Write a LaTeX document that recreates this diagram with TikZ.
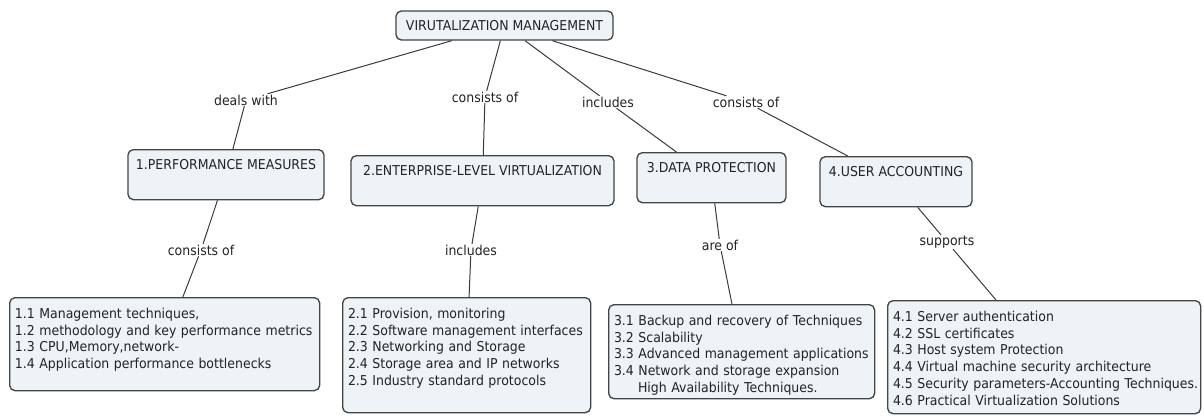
\documentclass[tikz,border=0pt]{standalone}
\usepackage{fontspec}
\setmainfont{DejaVu Sans}[FakeStretch=0.92]
\usepackage{tikz}
\usepackage{xcolor}
\definecolor{boxfill}{RGB}{237,243,246}
\definecolor{boxline}{RGB}{68,68,68}
\definecolor{inktext}{RGB}{35,35,35}

\begin{document}
\begin{tikzpicture}[x=0.75pt,y=-0.75pt,font=\fontsize{10.2}{12.6}\selectfont,text=inktext,
  topbox/.style={draw=boxline,fill=boxfill,rounded corners=4pt,line width=1pt,minimum height=21.75pt,inner sep=3pt},
  headbox/.style={draw=boxline,fill=boxfill,rounded corners=4pt,line width=1pt,anchor=north,inner ysep=5pt,text height=9.6pt,text depth=17.9pt},
  leafbox/.style={draw=boxline,fill=boxfill,rounded corners=4pt,line width=1pt,anchor=north west,align=left,inner xsep=4pt,inner ysep=6pt,text height=9.4pt},
  linkname/.style={inner sep=0.5pt},
  link/.style={draw=boxline!85!black,line width=0.75pt}]
  \useasboundingbox (0,0) rectangle (1204,415);
  \node[topbox,minimum width=162.75pt] (root) at (504.5,25.5) {VIRUTALIZATION MANAGEMENT};

  \node[headbox,minimum width=147pt] (perf) at (226,149) {1.PERFORMANCE MEASURES};
  \node[headbox,minimum width=197.25pt] (ent) at (482.5,155) {2.ENTERPRISE-LEVEL VIRTUALIZATION};
  \node[headbox,minimum width=111.75pt] (data) at (711.5,152) {3.DATA PROTECTION};
  \node[headbox,minimum width=114pt] (user) at (896,156) {4.USER ACCOUNTING};

  \node[linkname] (dealswith) at (246,100) {deals with};
  \node[linkname] (consistsA) at (485,97) {consists of};
  \node[linkname] (includesA) at (608,102) {includes};
  \node[linkname] (consistsB) at (746,102) {consists of};
  \node[linkname] (consistsC) at (201,250) {consists of};
  \node[linkname] (includesB) at (471,250) {includes};
  \node[linkname] (areof) at (720,245) {are of};
  \node[linkname] (supports) at (947,242) {supports};

  \node[leafbox,text width=224.5pt,text depth=48.35pt] (perfitems) at (9,297)
    {1.1 Management techniques,\\1.2 methodology and key performance metrics\\1.3 CPU,Memory,network-\\1.4 Application performance bottlenecks};
  \node[leafbox,text width=178pt,text depth=64.85pt] (entitems) at (342,297)
    {2.1 Provision, monitoring\\2.2 Software management interfaces\\2.3 Networking and Storage\\2.4 Storage area and IP networks\\2.5 Industry standard protocols};
  \node[leafbox,text width=191.5pt,text depth=49.1pt] (dataitems) at (608,304)
    {3.1 Backup and recovery of Techniques\\3.2 Scalability\\3.3 Advanced management applications\\3.4 Network and storage expansion\\\hspace*{18pt}High Availability Techniques.};
  \node[leafbox,inner xsep=4pt,text width=226.75pt,text depth=63.35pt] (useritems) at (887,300)
    {4.1 Server authentication\\4.2 SSL certificates\\4.3 Host system Protection\\4.4 Virtual machine security architecture\\\mbox{4.5 Security parameters-Accounting Techniques.}\\4.6 Practical Virtualization Solutions};

  \foreach \a/\b in {root/dealswith,dealswith/perf,root/consistsA,consistsA/ent,root/includesA,includesA/data,root/consistsB,consistsB/user,
    perf/consistsC,consistsC/perfitems,ent/includesB,includesB/entitems,data/areof,areof/dataitems,user/supports,supports/useritems}
    \draw[link] (\a) -- (\b);
\end{tikzpicture}
\end{document}
